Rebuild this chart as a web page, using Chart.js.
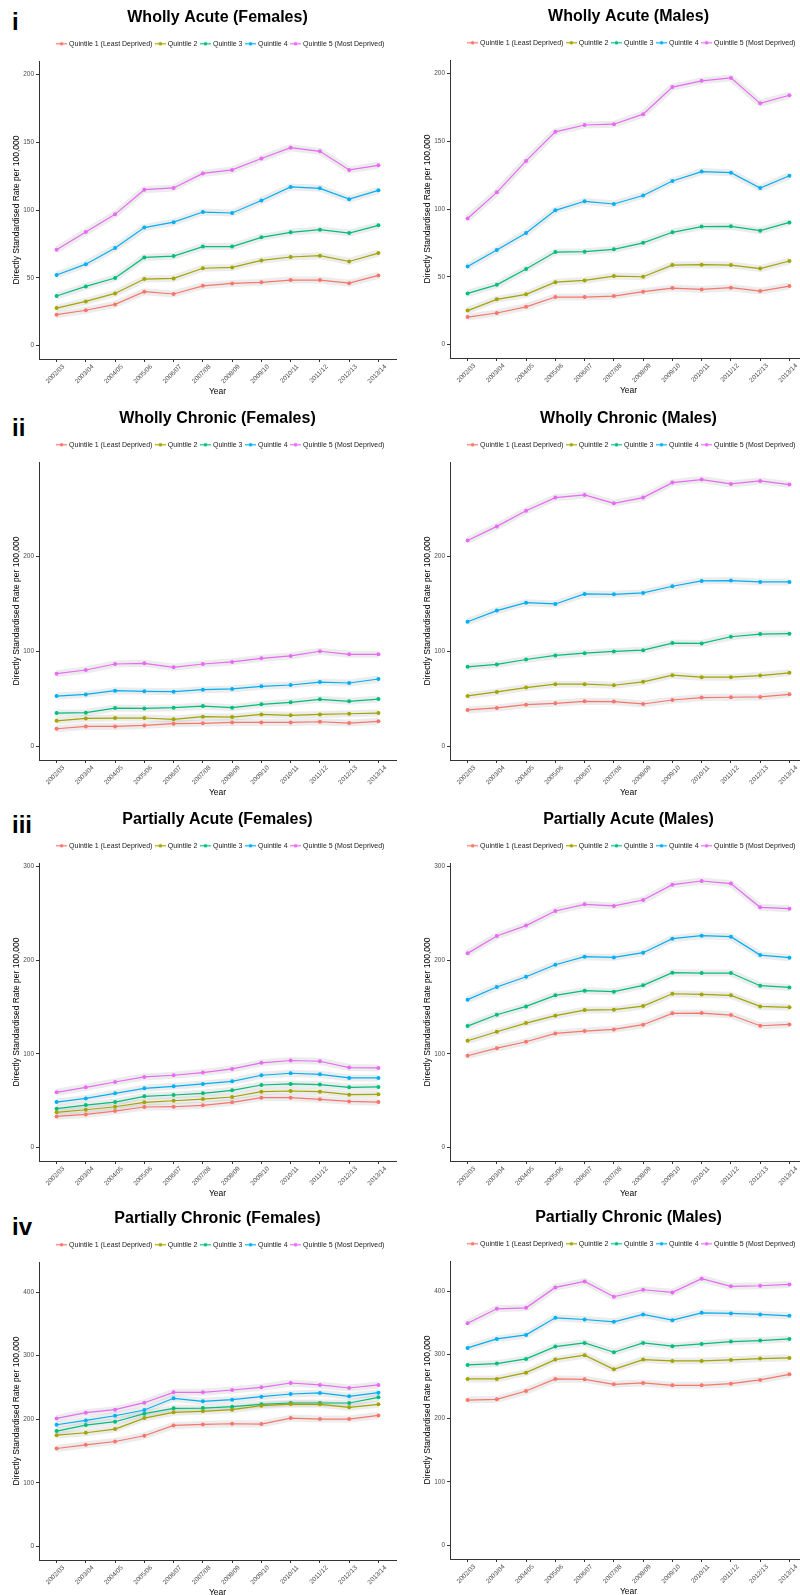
<!DOCTYPE html>
<html><head><meta charset="utf-8">
<script src="https://cdn.jsdelivr.net/npm/chart.js@4.4.1/dist/chart.umd.min.js"></script>
<style>
html,body{margin:0;padding:0;background:#fff;}
body{width:800px;height:1595px;position:relative;overflow:hidden;}
canvas.panel{position:absolute;}
.tag{position:absolute;font-family:'Liberation Sans',Arial,sans-serif;font-weight:bold;font-size:24px;line-height:24px;color:#000;}
</style></head><body>
<div class="tag" style="left:12px;top:9.7px">i</div>
<div class="tag" style="left:12px;top:416.4px">ii</div>
<div class="tag" style="left:12px;top:813px">iii</div>
<div class="tag" style="left:12px;top:1215.4px">iv</div>
<canvas id="c1" class="panel" width="400" height="400"></canvas>
<canvas id="c2" class="panel" width="400" height="400"></canvas>
<canvas id="c3" class="panel" width="400" height="400"></canvas>
<canvas id="c4" class="panel" width="400" height="400"></canvas>
<canvas id="c5" class="panel" width="400" height="400"></canvas>
<canvas id="c6" class="panel" width="400" height="400"></canvas>
<canvas id="c7" class="panel" width="400" height="400"></canvas>
<canvas id="c8" class="panel" width="400" height="400"></canvas>
<script>
// ---- categories / labels ----
const years = ['2002/03','2003/04','2004/05','2005/06','2006/07','2007/08','2008/09','2009/10','2010/11','2011/12','2012/13','2013/14'];
const quintileNames = ['Quintile 1 (Least Deprived)','Quintile 2','Quintile 3','Quintile 4','Quintile 5 (Most Deprived)'];
const yTicksRow1 = [0,50,100,150,200];
const yTicksRow2 = [0,100,200];
const yTicksRow3 = [0,100,200,300];
const yTicksRow4 = [0,100,200,300,400];

// ---- Wholly Acute (Females) ----
const WA_F_Q1 = [22.7,26.0,30.3,39.7,38.0,44.0,45.8,46.6,48.3,48.3,46.0,51.7];
const WA_F_Q2 = [27.6,32.5,38.4,49.0,49.5,57.0,57.6,62.8,65.3,66.3,62.0,68.2];
const WA_F_Q3 = [36.5,43.6,49.8,65.0,66.0,73.0,73.0,79.8,83.5,85.5,83.0,88.7];
const WA_F_Q4 = [52.0,60.0,72.0,87.0,91.0,98.5,97.8,107.0,117.0,116.0,108.0,114.5];
const WA_F_Q5 = [70.7,83.7,96.8,115.0,116.3,127.0,129.6,138.0,146.0,143.3,129.6,133.0];
// ---- Wholly Acute (Males) ----
const WA_M_Q1 = [20.2,23.2,27.8,35.0,35.0,35.7,39.0,41.6,40.6,41.9,39.4,43.1];
const WA_M_Q2 = [25.0,33.3,37.0,46.0,47.3,50.5,50.0,58.6,58.9,58.6,56.0,61.6];
const WA_M_Q3 = [37.7,44.0,55.7,68.2,68.5,70.2,75.0,82.8,87.0,87.2,84.0,90.1];
const WA_M_Q4 = [57.6,69.7,82.3,99.0,105.7,103.7,110.0,120.7,127.6,126.8,115.5,124.6];
const WA_M_Q5 = [93.0,112.3,135.5,157.0,162.0,162.6,170.0,190.0,194.6,196.8,178.0,184.0];
// ---- Wholly Chronic (Females) ----
const WC_F_Q1 = [18.6,21.1,21.1,22.1,23.9,24.3,25.3,25.3,25.3,26.0,24.6,26.4];
const WC_F_Q2 = [27.0,29.5,29.9,29.9,28.5,31.3,30.9,33.7,32.7,33.7,34.4,35.1];
const WC_F_Q3 = [35.1,35.5,40.4,40.0,40.8,42.5,40.8,44.3,46.4,49.6,47.5,49.9];
const WC_F_Q4 = [53.0,54.8,58.7,58.0,57.6,59.8,60.5,63.3,64.7,67.8,66.8,71.0];
const WC_F_Q5 = [76.6,80.5,86.8,87.5,83.3,86.8,89.0,92.8,95.3,100.2,97.0,97.0];
// ---- Wholly Chronic (Males) ----
const WC_M_Q1 = [38.4,40.5,44.0,45.4,47.5,47.2,44.7,48.9,51.4,51.8,52.1,54.9];
const WC_M_Q2 = [53.2,57.4,62.0,65.5,65.5,64.4,68.0,75.0,72.9,72.9,74.6,77.5];
const WC_M_Q3 = [83.8,86.3,91.5,95.8,98.2,100.0,101.4,108.8,108.5,115.5,118.3,118.7];
const WC_M_Q4 = [131.3,143.0,151.4,150.0,160.6,160.2,161.6,168.7,174.3,174.6,173.2,173.2];
const WC_M_Q5 = [216.9,231.7,248.2,262.0,264.8,256.0,262.0,277.8,281.0,276.4,279.6,275.7];
// ---- Partially Acute (Females) ----
const PA_F_Q1 = [33.2,35.3,38.9,43.2,43.5,45.0,48.2,53.2,53.2,51.4,49.2,48.5];
const PA_F_Q2 = [37.5,40.3,43.5,48.2,49.9,51.7,53.9,59.6,60.3,59.6,56.4,56.7];
const PA_F_Q3 = [41.4,45.3,48.5,54.6,56.0,57.8,61.0,66.7,67.8,67.1,64.2,64.6];
const PA_F_Q4 = [48.5,52.4,57.8,63.1,65.3,67.8,70.6,77.1,79.2,78.1,74.2,74.2];
const PA_F_Q5 = [58.9,64.2,69.9,75.3,77.1,79.9,83.8,90.3,92.8,92.0,85.3,84.9];
// ---- Partially Acute (Males) ----
const PA_M_Q1 = [97.9,106.0,112.8,121.7,124.2,126.0,131.0,143.1,143.4,141.3,129.9,131.3];
const PA_M_Q2 = [113.9,123.5,132.7,140.6,146.6,147.0,150.9,164.0,163.3,162.3,150.5,149.5];
const PA_M_Q3 = [129.5,141.6,150.5,162.3,167.3,166.2,173.0,186.5,186.1,186.1,172.6,170.8];
const PA_M_Q4 = [157.7,171.2,182.2,195.0,203.6,202.8,207.8,222.8,226.0,224.9,205.3,202.5];
const PA_M_Q5 = [207.1,225.6,236.7,252.3,259.4,257.7,264.0,280.4,284.3,281.5,256.2,254.8];
// ---- Partially Chronic (Females) ----
const PC_F_Q1 = [154.0,159.8,165.0,174.0,190.3,191.9,192.9,192.4,201.8,200.3,200.3,206.0];
const PC_F_Q2 = [175.0,178.7,184.5,201.8,210.8,212.4,215.0,221.3,223.9,223.4,218.7,223.4];
const PC_F_Q3 = [181.3,190.8,196.1,208.7,217.1,217.6,219.7,223.4,225.5,225.5,225.5,234.4];
const PC_F_Q4 = [191.3,198.2,205.5,214.5,232.9,228.1,230.8,235.5,239.7,241.3,236.0,241.8];
const PC_F_Q5 = [201.3,210.3,215.0,226.0,242.3,242.3,246.0,250.2,257.0,253.9,249.1,253.9];
// ---- Partially Chronic (Males) ----
const PC_M_Q1 = [228.6,229.7,242.8,261.8,261.2,253.4,255.5,251.8,251.8,254.4,260.2,269.1];
const PC_M_Q2 = [261.8,261.8,271.7,292.2,299.1,277.0,292.2,290.1,290.1,291.7,293.8,294.9];
const PC_M_Q3 = [283.8,285.9,293.3,312.7,318.5,303.8,318.5,313.3,316.9,320.6,322.2,324.8];
const PC_M_Q4 = [310.6,324.8,331.1,357.9,355.3,351.6,363.2,354.3,365.8,364.8,363.2,361.1];
const PC_M_Q5 = [349.5,372.1,373.7,405.8,415.2,391.1,402.1,397.9,419.4,407.4,408.4,410.5];

// ---- styling ----
const COLORS = ['#F8766D','#A3A500','#00BF7D','#00B0F6','#E76BF3'];
const FONT = "'Liberation Sans', Arial, Helvetica, sans-serif";
Chart.defaults.font.family = FONT;

const panels = [
  {id:'c1', left:0,   top:0,    title:'Wholly Acute (Females)',     series:[WA_F_Q1,WA_F_Q2,WA_F_Q3,WA_F_Q4,WA_F_Q5], yMin:-10,   yMax:210,   yTicks:yTicksRow1},
  {id:'c2', left:411, top:-1,   title:'Wholly Acute (Males)',       series:[WA_M_Q1,WA_M_Q2,WA_M_Q3,WA_M_Q4,WA_M_Q5], yMin:-10,   yMax:210,   yTicks:yTicksRow1},
  {id:'c3', left:0,   top:401,  title:'Wholly Chronic (Females)',   series:[WC_F_Q1,WC_F_Q2,WC_F_Q3,WC_F_Q4,WC_F_Q5], yMin:-14.3, yMax:299.5, yTicks:yTicksRow2},
  {id:'c4', left:411, top:401,  title:'Wholly Chronic (Males)',     series:[WC_M_Q1,WC_M_Q2,WC_M_Q3,WC_M_Q4,WC_M_Q5], yMin:-14.3, yMax:299.5, yTicks:yTicksRow2},
  {id:'c5', left:0,   top:802,  title:'Partially Acute (Females)',  series:[PA_F_Q1,PA_F_Q2,PA_F_Q3,PA_F_Q4,PA_F_Q5], yMin:-14.4, yMax:303.5, yTicks:yTicksRow3},
  {id:'c6', left:411, top:802,  title:'Partially Acute (Males)',    series:[PA_M_Q1,PA_M_Q2,PA_M_Q3,PA_M_Q4,PA_M_Q5], yMin:-14.4, yMax:303.5, yTicks:yTicksRow3},
  {id:'c7', left:0,   top:1201, title:'Partially Chronic (Females)',series:[PC_F_Q1,PC_F_Q2,PC_F_Q3,PC_F_Q4,PC_F_Q5], yMin:-21.4, yMax:447.3, yTicks:yTicksRow4},
  {id:'c8', left:411, top:1200, title:'Partially Chronic (Males)',  series:[PC_M_Q1,PC_M_Q2,PC_M_Q3,PC_M_Q4,PC_M_Q5], yMin:-21.4, yMax:447.3, yTicks:yTicksRow4}
];

function keyCanvas(color){
  const c = document.createElement('canvas');
  c.width = 11; c.height = 5;
  const g = c.getContext('2d');
  g.strokeStyle = color; g.lineWidth = 1.2;
  g.beginPath(); g.moveTo(0,2.5); g.lineTo(11,2.5); g.stroke();
  g.fillStyle = color; g.beginPath(); g.arc(5.5,2.5,1.8,0,Math.PI*2); g.fill();
  return c;
}
const KEYS = COLORS.map(keyCanvas);

const legendPad = {
  id:'legendPad',
  beforeLayout(chart){
    const lg = chart.legend;
    if (lg && !lg._padded){
      const f = lg.fit;
      lg.fit = function(){ f.call(this); this.height += 3.7; };
      lg._padded = true;
    }
  },
  afterLayout(chart){
    const lg = chart.legend;
    if (lg){ lg.left += 3.5; lg.right += 3.5; }
  }
};

function build(p){
  const cv = document.getElementById(p.id);
  cv.style.left = p.left + 'px';
  cv.style.top = p.top + 'px';
  const datasets = [];
  p.series.forEach((vals, i) => {
    datasets.push({
      label: quintileNames[i],
      data: vals.map((v, k) => ({x:k, y:v})),
      borderColor: COLORS[i], backgroundColor: COLORS[i],
      borderWidth: 1.2, pointRadius: 2, pointBorderWidth: 0,
      pointBackgroundColor: COLORS[i], tension: 0, order: 0, fill: false
    });
  });
  p.series.forEach((vals, i) => {
    datasets.push({
      label: 'band', isBand: true,
      data: vals.map((v, k) => ({x:k, y:v})),
      borderColor: 'rgba(140,140,140,0.17)', borderWidth: 7,
      borderJoinStyle: 'round', pointRadius: 0, tension: 0, order: 1, fill: false
    });
  });
  const axisCommon = {
    border: {display:true, color:'#333', width:1},
    grid: {display:true, drawOnChartArea:false, drawTicks:true, tickLength:3, color:'#333', lineWidth:1}
  };
  return new Chart(cv, {
    type: 'line',
    data: {datasets},
    plugins: [legendPad],
    options: {
      responsive: false, animation: false, devicePixelRatio: 1, events: [],
      layout: {padding: {left:0, right:2, top:0, bottom:0}},
      plugins: {
        tooltip: {enabled:false},
        title: {display:true, text:p.title, fullSize:false, color:'#000',
                font:{family:FONT, size:16, weight:'bold', lineHeight:1.2},
                padding:{top:8.1, bottom:9.0}},
        legend: {display:true, position:'top', fullSize:false,
          labels: {usePointStyle:true, pointStyleWidth:8, padding:4, color:'#1a1a1a',
            font:{family:FONT, size:7},
            filter: (item, data) => !data.datasets[item.datasetIndex].isBand,
            generateLabels: (chart) => {
              const items = Chart.defaults.plugins.legend.labels.generateLabels(chart);
              items.forEach(it => { if (it.datasetIndex < 5) it.pointStyle = KEYS[it.datasetIndex]; });
              return items;
            }
          }
        }
      },
      scales: {
        x: Object.assign({
          type:'linear', min:-0.6, max:11.6,
          afterBuildTicks: s => { s.ticks = years.map((_, k) => ({value:k})); },
          afterFit: s => { s.height = 41; s.paddingLeft = 0; s.paddingRight = 0; },
          ticks: {autoSkip:false, minRotation:45, maxRotation:45, padding:1, labelOffset:7, color:'#4d4d4d',
                  font:{family:FONT, size:6.5}, callback: v => years[v]},
          title: {display:true, text:'Year', color:'#000', font:{family:FONT, size:8.5}, padding:{top:0, bottom:3}}
        }, axisCommon),
        y: Object.assign({
          type:'linear', min:p.yMin, max:p.yMax,
          afterBuildTicks: s => { s.ticks = p.yTicks.map(v => ({value:v})); },
          afterFit: s => { s.width = 39; },
          ticks: {padding:2, color:'#4d4d4d', font:{family:FONT, size:6.5}},
          title: {display:true, text:'Directly Standardised Rate per 100,000', color:'#000',
                  font:{family:FONT, size:8.5}, padding:{top:11.6, bottom:0}}
        }, axisCommon)
      }
    }
  });
}
panels.forEach(build);
</script>
</body></html>
